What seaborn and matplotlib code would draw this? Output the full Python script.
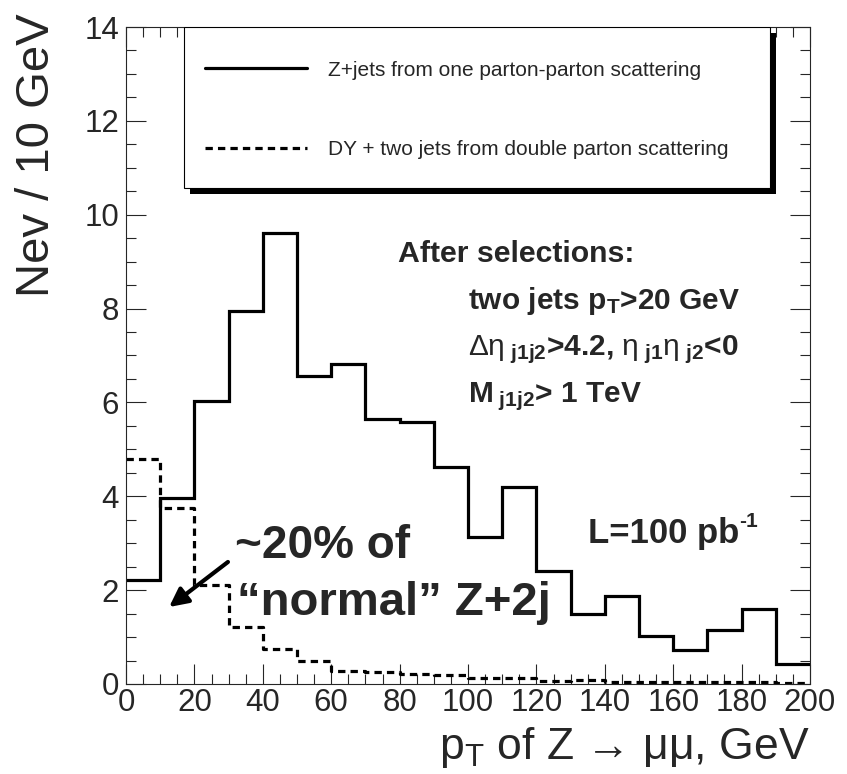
import numpy as np
import matplotlib
matplotlib.use('Agg')
import matplotlib.pyplot as plt
from matplotlib.patches import Rectangle
from matplotlib.ticker import MultipleLocator
import seaborn as sns

# bin lower edges (GeV) and contents (Nev / 10 GeV)
pt_low = [0, 10, 20, 30, 40, 50, 60, 70, 80, 90,
          100, 110, 120, 130, 140, 150, 160, 170, 180, 190]
bin_edges = pt_low + [200]
nev_single = [2.22, 3.97, 6.03, 7.95, 9.62, 6.57, 6.82, 5.64, 5.58, 4.62,
              3.13, 4.19, 2.40, 1.49, 1.88, 1.02, 0.72, 1.14, 1.59, 0.43]
nev_double = [4.80, 3.74, 2.10, 1.21, 0.75, 0.50, 0.28, 0.25, 0.21, 0.20,
              0.13, 0.12, 0.07, 0.09, 0.05, 0.05, 0.04, 0.04, 0.04, 0.03]
labels = ['Z+jets from one parton-parton scattering',
          'DY + two jets from double parton scattering']

sns.set_style('ticks')
plt.rcParams['font.family'] = ['Liberation Sans', 'DejaVu Sans']
plt.rcParams['mathtext.fontset'] = 'custom'
plt.rcParams['mathtext.rm'] = 'Liberation Sans'
plt.rcParams['mathtext.it'] = 'Liberation Sans:italic'
plt.rcParams['mathtext.bf'] = 'Liberation Sans:bold'

fig, ax = plt.subplots(figsize=(8.47, 7.74), dpi=100)
fig.subplots_adjust(left=0.1488, right=0.9563, top=0.9651, bottom=0.1163)

sns.histplot(x=pt_low, weights=nev_single, bins=bin_edges, element='step',
             fill=False, color='black', linewidth=2.3, ax=ax,
             solid_joinstyle='miter')
sns.histplot(x=pt_low, weights=nev_double, bins=bin_edges, element='step',
             fill=False, color='black', linewidth=2.3, linestyle=(0, (2.3, 1.6)),
             ax=ax)

ax.set_xlim(0, 200)
ax.set_ylim(0, 14)
ax.xaxis.set_major_locator(MultipleLocator(20))
ax.xaxis.set_minor_locator(MultipleLocator(5))
ax.yaxis.set_major_locator(MultipleLocator(2))
ax.yaxis.set_minor_locator(MultipleLocator(0.5))
ax.tick_params(which='both', direction='in', top=True, right=True, width=0.8,
               labelsize=22.5)
ax.tick_params(which='major', length=14.5)
ax.tick_params(which='minor', length=7.5)
ax.tick_params(axis='x', pad=3)
ax.tick_params(axis='y', pad=5)
for s in ax.spines.values():
    s.set_linewidth(0.8)

ax.set_ylabel('Nev / 10 GeV', fontsize=34, loc='top')
ax.yaxis.set_label_coords(-0.098, 1.021)
ax.set_xlabel(r'p$_{\mathrm{T}}$ of Z → μμ, GeV', fontsize=32, loc='right')
ax.xaxis.set_label_coords(1.0, -0.062)

# legend box with ROOT-like shadow
ax.add_patch(Rectangle((0.0848 + 0.0088, 0.755 - 0.0091), 0.857, 0.245,
                       transform=ax.transAxes, fc='black', ec='black',
                       lw=0, zorder=2.9, clip_on=False))
ax.add_patch(Rectangle((0.0848, 0.755), 0.857, 0.245, transform=ax.transAxes,
                       fc='white', ec='black', lw=0.8, zorder=3))
lines = ax.get_lines()
ax.legend(handles=lines[:2], labels=labels, loc='upper left',
          bbox_to_anchor=(0.1155, 0.949), frameon=False, fontsize=15,
          handlelength=4.9, handletextpad=1.0, labelspacing=2.9,
          borderpad=0, borderaxespad=0)

# selection text
ax.text(79.5, 9.0, 'After selections:', fontsize=21.8, weight='bold', va='baseline')
ax.text(100, 8.0, r'two jets p$_{\mathbf{T}}$>20 GeV', fontsize=21.5,
        weight='bold', va='baseline')
ax.text(100, 7.0,
        r'$\mathrm{\Delta\eta}_{\ \mathbf{j1j2}}$>4.2, $\mathrm{\eta}_{\ \mathbf{j1}}\mathrm{\eta}_{\ \mathbf{j2}}$<0',
        fontsize=21.5, weight='bold', va='baseline')
ax.text(100, 6.0, r'M$_{\ \mathbf{j1j2}}$> 1 TeV', fontsize=21.5,
        weight='bold', va='baseline')
lum = ax.text(135, 3.0, 'L=100 pb', fontsize=25, weight='bold', va='baseline')
ax.annotate('-1', xy=(1.0, 1.0), xycoords=lum, xytext=(0, 4),
            textcoords='offset points', fontsize=15, weight='bold',
            ha='left', va='top')

# annotation
ax.text(31.9, 2.68, '~20% of', fontsize=33, weight='bold', va='baseline')
ax.text(32.5, 1.47, '“normal” Z+2j', fontsize=34, weight='bold', va='baseline')
ax.annotate('', xy=(12.6, 1.64), xytext=(29.8, 2.6),
            arrowprops=dict(arrowstyle='-|>', lw=3, color='black',
                            mutation_scale=28, shrinkA=0, shrinkB=0))

fig.savefig('out.png', dpi=100)
